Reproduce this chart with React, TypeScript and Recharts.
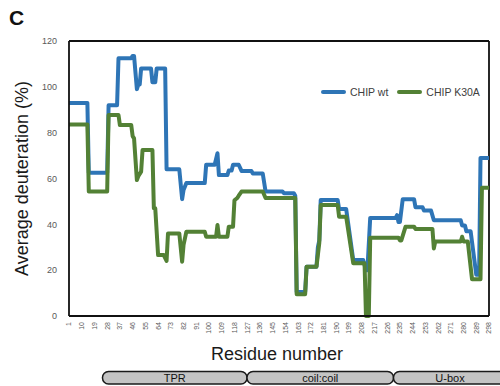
import React from "react";
import {
  LineChart,
  Line,
  XAxis,
  YAxis,
  Legend,
  ReferenceLine,
} from "recharts";

// CHIP wt: residue / average deuteration (%) breakpoints
const wtResidues = [
  1, 14, 15, 28, 29, 35, 36, 45, 46, 47, 49, 50, 51, 52, 59, 60, 62, 63, 69,
  70, 79, 81, 82, 84, 97, 98, 104, 106, 107, 113, 114, 116, 117, 121, 123, 130,
  131, 138, 140, 152, 153, 160, 161, 162, 168, 169, 176, 177, 178, 179, 191,
  192, 197, 202, 209, 211, 212, 214, 232, 233, 234, 235, 237, 245, 246, 251,
  252, 257, 259, 278, 279, 281, 282, 285, 289, 291, 292, 298,
];
const wtValues = [
  93, 93, 62.5, 62.5, 92, 92, 112.5, 112.5, 113.5, 113.5, 99, 101, 101, 108,
  108, 102, 102, 108, 108, 64, 64, 51, 55, 58, 58, 66, 66, 71, 61.5, 61.5,
  63.5, 63.5, 66, 66, 63.3, 63.3, 62.2, 62.2, 54.3, 54.3, 53.6, 53.6, 52.5,
  10.5, 10.5, 21.5, 21.5, 30, 33, 50.6, 50.6, 46.7, 46.7, 24.4, 24.4, 20, 20,
  42.8, 42.8, 44, 41, 41, 51, 51, 47.5, 47.5, 46, 46, 41.8, 41.8, 39.5, 39.5,
  37, 37, 18, 18, 69, 69,
];

// CHIP K30A
const k30aResidues = [
  1, 14, 15, 28, 29, 36, 37, 45, 46, 47, 49, 50, 52, 53, 60, 61, 62, 64, 68,
  70, 71, 79, 81, 82, 84, 97, 98, 105, 106, 107, 113, 114, 117, 118, 120, 121,
  123, 138, 140, 161, 162, 168, 169, 176, 178, 179, 191, 192, 197, 202, 210,
  211, 213, 214, 234, 235, 236, 239, 245, 246, 258, 259, 260, 278, 279, 280,
  283, 286, 292, 293, 298,
];
const k30aValues = [
  83.6, 83.6, 54.3, 54.3, 87.7, 87.7, 83.3, 83.3, 78.5, 77.5, 59.3, 61, 63,
  72.4, 72.4, 47, 47, 26.6, 26.6, 24, 36, 36, 23.7, 31, 36.8, 36.8, 34.6,
  34.6, 39.7, 34.6, 34.6, 39, 39, 50.5, 51.5, 52.5, 54.3, 54.3, 51.5, 51.5,
  9.5, 9.5, 21.5, 21.5, 32, 48.4, 48.4, 43.3, 43.3, 23, 23, 0, 0, 34.2, 34.2,
  33, 33, 39, 39, 38, 38, 29.5, 32.5, 32.5, 34.6, 32.5, 32.5, 16, 16, 56, 56,
];

const seriesNames = ["CHIP wt", "CHIP K30A"];

const xTicks = [
  1, 10, 19, 28, 37, 46, 55, 64, 73, 82, 91, 100, 109, 118, 127, 136, 145,
  154, 163, 172, 181, 190, 199, 208, 217, 226, 235, 244, 253, 262, 271, 280,
  289, 298,
];
const yTicks = [0, 20, 40, 60, 80, 100, 120];

const domains = [
  { name: "TPR", from: 102.5, to: 247 },
  { name: "coil:coil", from: 247, to: 393.5 },
  { name: "U-box", from: 393.5, to: 508 },
];

const wtData = wtResidues.map((r, i) => ({ r, v: wtValues[i] }));
const k30aData = k30aResidues.map((r, i) => ({ r, v: k30aValues[i] }));

const FONT = "'Liberation Sans', Arial, sans-serif";
const FRAME = "#111";

function RotatedTick(props: any) {
  const { x, y, payload } = props;
  return (
    <text
      x={x}
      y={y}
      transform={`rotate(-90 ${x} ${y})`}
      textAnchor="end"
      dy="0.35em"
      fontSize={7}
      fill="#595959"
      fontFamily={FONT}
    >
      {payload.value}
    </text>
  );
}

function LegendContent(props: any) {
  const items = [...(props.payload ?? [])].sort(
    (a: any, b: any) => seriesNames.indexOf(a.value) - seriesNames.indexOf(b.value)
  );
  return (
    <div style={{ display: "flex", alignItems: "center", fontFamily: FONT }}>
      {items.map((p: any) => (
        <div
          key={p.value}
          style={{ display: "flex", alignItems: "center", marginRight: 9 }}
        >
          <span
            style={{
              display: "inline-block",
              width: 25,
              height: 4,
              borderRadius: 2,
              background: p.color,
              marginRight: 4,
            }}
          />
          <span style={{ fontSize: 10.5, color: "#404040" }}>{p.value}</span>
        </div>
      ))}
    </div>
  );
}

export default function App() {
  return (
    <div style={{ position: "absolute", left: 0, top: 0, width: 500, height: 386, background: "#fff" }}>
      <LineChart
        width={500}
        height={386}
        margin={{ top: 41, right: 11, left: 0, bottom: 0 }}
      >
        <XAxis
          dataKey="r"
          type="number"
          domain={[1, 298]}
          ticks={xTicks}
          interval={0}
          allowDataOverflow
          tickLine={false}
          tickMargin={0}
          tick={<RotatedTick />}
          height={70}
          axisLine={{ stroke: FRAME, strokeWidth: 1.8 }}
          label={{
            value: "Residue number",
            position: "insideBottom",
            offset: 26,
            dx: -2,
            style: { fontSize: 18, fill: "#1a1a1a", fontFamily: FONT },
          }}
        />
        <YAxis
          type="number"
          domain={[0, 120]}
          ticks={yTicks}
          width={69}
          tickLine={false}
          tickMargin={6}
          tick={{ fontSize: 9, fill: "#595959", fontFamily: FONT }}
          axisLine={{ stroke: FRAME, strokeWidth: 1.8 }}
          label={{
            value: "Average deuteration (%)",
            angle: -90,
            position: "insideLeft",
            offset: 22,
            style: {
              fontSize: 18,
              fill: "#1a1a1a",
              fontFamily: FONT,
              textAnchor: "middle",
            },
          }}
        />
        <ReferenceLine y={120} stroke={FRAME} strokeWidth={1.8} />
        <ReferenceLine x={298} stroke={FRAME} strokeWidth={1.8} />
        <Legend
          layout="horizontal"
          verticalAlign="middle"
          align="center"
          content={<LegendContent />}
          wrapperStyle={{ top: 86, left: 321, width: 175, height: 16 }}
        />
        <Line
          data={wtData}
          dataKey="v"
          name="CHIP wt"
          type="linear"
          stroke="#2e75b6"
          strokeWidth={4}
          strokeLinejoin="round"
          dot={false}
          isAnimationActive={false}
        />
        <Line
          data={k30aData}
          dataKey="v"
          name="CHIP K30A"
          type="linear"
          stroke="#538135"
          strokeWidth={4}
          strokeLinejoin="round"
          dot={false}
          isAnimationActive={false}
        />
      </LineChart>
      <svg
        width={500}
        height={386}
        style={{ position: "absolute", left: 0, top: 0, pointerEvents: "none" }}
      >
        <text x={9} y={25} fontSize={21} fontWeight="bold" fontFamily={FONT} fill="#111">
          C
        </text>
        {domains.map((d) => (
          <g key={d.name}>
            <rect
              x={d.from}
              y={371.5}
              width={d.to - d.from}
              height={12.5}
              rx={6}
              ry={6}
              fill="#c4c4c4"
              stroke="#1a1a1a"
              strokeWidth={1.5}
            />
            <text
              x={d.name === "U-box" ? 450 : (d.from + d.to) / 2}
              y={382}
              textAnchor="middle"
              fontSize={11}
              fontFamily="'Liberation Sans Narrow', 'Arial Narrow', sans-serif"
              fill="#111"
            >
              {d.name}
            </text>
          </g>
        ))}
      </svg>
    </div>
  );
}
